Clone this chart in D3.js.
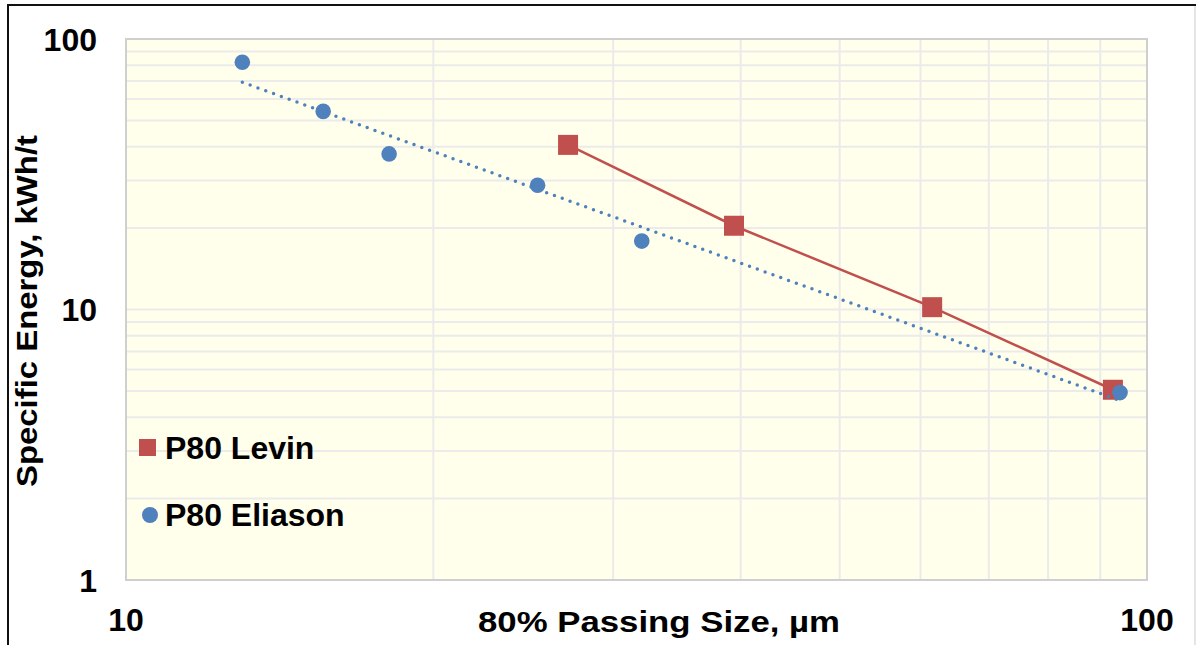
<!DOCTYPE html>
<html>
<head>
<meta charset="utf-8">
<script src="https://cdn.jsdelivr.net/npm/d3@7"></script>
<style>
  body { margin: 0; background: #fff; }
  text { font-family: "Liberation Sans", Arial, sans-serif; font-weight: bold; fill: #000; }
</style>
</head>
<body>
<div id="chart"></div>
<script>
// Chart size and plot box.
var width = 1196;
var height = 645;
var plot = { left: 126, top: 39, right: 1147, bottom: 580 };

// Data.
var eliasonX = [13.0, 15.6, 18.1, 25.3, 32.0, 94.1];
var eliasonY = [82, 54, 37.6, 28.8, 17.9, 4.93];
var levinX = [27.1, 39.4, 61.6, 92.6];
var levinY = [40.6, 20.4, 10.2, 5.05];

var xTicks = [10, 100];
var yTicks = [1, 10, 100];
var seriesNames = ["P80 Levin", "P80 Eliason"];
var xTitle = "80% Passing Size, µm";
var yTitle = "Specific Energy, kWh/t";

var red = "#C0504D";
var blue = "#4F81BD";

var svg = d3.select("#chart").append("svg")
  .attr("width", width)
  .attr("height", height);

// outer frame
svg.append("rect")
  .attr("x", 8).attr("y", 5)
  .attr("width", 1300).attr("height", 800)
  .attr("fill", "none")
  .attr("stroke", "#111")
  .attr("stroke-width", 2);
svg.append("line")
  .attr("x1", 1195).attr("x2", 1195)
  .attr("y1", 6).attr("y2", height)
  .attr("stroke", "#ddd").attr("stroke-width", 1.5);

var x = d3.scaleLog().domain([10, 100]).range([plot.left, plot.right]);
var y = d3.scaleLog().domain([1, 100]).range([plot.bottom, plot.top]);

// plot background
svg.append("rect")
  .attr("x", plot.left).attr("y", plot.top)
  .attr("width", plot.right - plot.left)
  .attr("height", plot.bottom - plot.top)
  .attr("fill", "#FFFFEC");

// Gridlines at every 1..9 multiple of each decade.
var xGrid = x.ticks().filter(d => d > 10 && d < 100);
var yGrid = y.ticks().filter(d => d > 1 && d < 100);

svg.append("g").selectAll("line")
  .data(yGrid)
  .enter().append("line")
  .attr("x1", plot.left).attr("x2", plot.right)
  .attr("y1", d => y(d)).attr("y2", d => y(d))
  .attr("stroke", "#EBEBEB")
  .attr("stroke-width", 2);

svg.append("g").selectAll("line")
  .data(xGrid)
  .enter().append("line")
  .attr("y1", plot.top).attr("y2", plot.bottom)
  .attr("x1", d => x(d)).attr("x2", d => x(d))
  .attr("stroke", "#EBEBEB")
  .attr("stroke-width", 2);

// plot border
svg.append("rect")
  .attr("x", plot.left).attr("y", plot.top)
  .attr("width", plot.right - plot.left)
  .attr("height", plot.bottom - plot.top)
  .attr("fill", "none")
  .attr("stroke", "#CFCFCF")
  .attr("stroke-width", 2);

// Tick labels
svg.append("g").selectAll("text")
  .data(yTicks)
  .enter().append("text")
  .attr("x", 97)
  .attr("y", d => y(d))
  .attr("dy", "0.36em")
  .attr("text-anchor", "end")
  .style("font-size", "32px")
  .text(d => d);

svg.append("g").selectAll("text")
  .data(xTicks)
  .enter().append("text")
  .attr("x", d => x(d))
  .attr("y", 631)
  .attr("text-anchor", "middle")
  .style("font-size", "32px")
  .text(d => d);

// Axis titles
svg.append("text")
  .attr("x", 659)
  .attr("y", 632)
  .attr("text-anchor", "middle")
  .style("font-size", "30px")
  .attr("textLength", 362)
  .attr("lengthAdjust", "spacingAndGlyphs")
  .text(xTitle);

svg.append("text")
  .attr("transform", "translate(37,311) rotate(-90)")
  .attr("text-anchor", "middle")
  .style("font-size", "30px")
  .attr("textLength", 352)
  .attr("lengthAdjust", "spacingAndGlyphs")
  .text(yTitle);

// Levin series: points joined by a solid line.
var levin = levinX.map((d, i) => ({ x: d, y: levinY[i] }));
var eliason = eliasonX.map((d, i) => ({ x: d, y: eliasonY[i] }));

var line = d3.line().x(d => x(d.x)).y(d => y(d.y));

svg.append("path")
  .datum(levin)
  .attr("d", line)
  .attr("fill", "none")
  .attr("stroke", red)
  .attr("stroke-width", 2.5);

svg.append("g").selectAll("rect")
  .data(levin)
  .enter().append("rect")
  .attr("x", d => x(d.x) - 10)
  .attr("y", d => y(d.y) - 10)
  .attr("width", 20).attr("height", 20)
  .attr("fill", red);

// Eliason series: power trendline (least squares in log-log space).
var lx = eliason.map(d => Math.log10(d.x));
var ly = eliason.map(d => Math.log10(d.y));
var mx = d3.mean(lx), my = d3.mean(ly);
var sxy = d3.sum(lx, (v, i) => (v - mx) * (ly[i] - my));
var sxx = d3.sum(lx, v => (v - mx) * (v - mx));
var slope = sxy / sxx;
var icpt = my - slope * mx;
var xr = d3.extent(eliasonX);
var trend = d3.range(0, 101).map(i => {
  var lv = Math.log10(xr[0]) + (Math.log10(xr[1]) - Math.log10(xr[0])) * i / 100;
  return { x: Math.pow(10, lv), y: Math.pow(10, icpt + slope * lv) };
});

svg.append("g").selectAll("circle")
  .data(eliason)
  .enter().append("circle")
  .attr("cx", d => x(d.x))
  .attr("cy", d => y(d.y))
  .attr("r", 7.8)
  .attr("fill", blue);

svg.append("path")
  .datum(trend)
  .attr("d", line)
  .attr("fill", "none")
  .attr("stroke", blue)
  .attr("stroke-width", 3.5)
  .attr("stroke-linecap", "round")
  .attr("stroke-dasharray", "0 8.3");

// Legend
var legend = svg.append("g");
legend.append("rect")
  .attr("x", 139).attr("y", 439)
  .attr("width", 17).attr("height", 17)
  .attr("fill", red);
legend.append("circle")
  .attr("cx", 150).attr("cy", 515)
  .attr("r", 8)
  .attr("fill", blue);
legend.selectAll("text")
  .data(seriesNames)
  .enter().append("text")
  .attr("x", 165)
  .attr("y", (d, i) => [459, 526][i])
  .style("font-size", "32px")
  .text(d => d);
</script>
</body>
</html>
